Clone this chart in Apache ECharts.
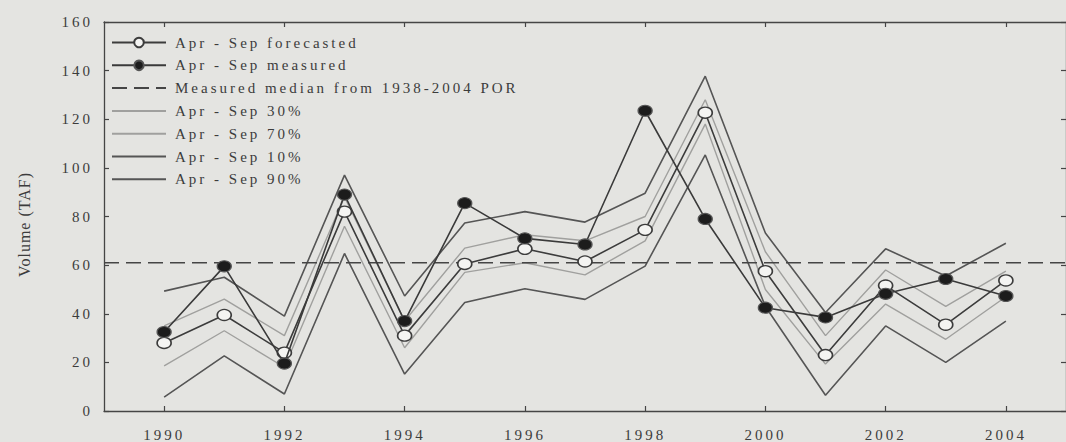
<!DOCTYPE html>
<html>
<head>
<meta charset="utf-8">
<script src="https://cdn.jsdelivr.net/npm/echarts@6/dist/echarts.min.js"></script>
<style>
  html, body { margin: 0; padding: 0; background: #e4e4e1; }
  #chart { width: 1066px; height: 442px; }
  #chart text { letter-spacing: 3px; }
  #chart text[style*="lighter"] { letter-spacing: 1px; }
</style>
</head>
<body>
<div id="chart"></div>
<script>
// ---- data ----
const years = [1990, 1991, 1992, 1993, 1994, 1995, 1996, 1997, 1998, 1999, 2000, 2001, 2002, 2003, 2004];
const forecasted = [28, 39.5, 24, 82, 31, 60.5, 66.7, 61.5, 74.5, 122.7, 57.5, 23, 51.6, 35.5, 53.7];
const measured   = [32.5, 59.5, 19.5, 89, 37, 85.5, 71, 68.5, 123.5, 79, 42.5, 38.5, 48.2, 54.3, 47.3];
const p10 = [49.3, 55, 39, 97, 47.3, 77.3, 82, 77.7, 89.6, 137.7, 73.2, 40.5, 66.7, 55.5, 69];
const p30 = [35, 46, 31, 88, 37, 67, 72.5, 70, 80, 128, 65.5, 31, 58, 43, 57.5];
const p70 = [18.6, 33, 18, 76, 26, 57, 61, 56, 70, 118, 50, 19.3, 44, 29.5, 47];
const p90 = [5.7, 22.7, 7, 64.8, 15.2, 44.6, 50.3, 45.9, 59.6, 105.3, 43, 6.5, 35, 20, 37];
const medianValue = 61;
const xRange = [1989, 2005];
const xTickLabels = [1990, 1992, 1994, 1996, 1998, 2000, 2002, 2004];
const yTicks = [0, 20, 40, 60, 80, 100, 120, 140, 160];

const names = [
  'Apr - Sep forecasted',
  'Apr - Sep measured',
  'Measured median from 1938-2004 POR',
  'Apr - Sep 30%',
  'Apr - Sep 70%',
  'Apr - Sep 10%',
  'Apr - Sep 90%'
];
const lineOnly = [false, false, true, true, true, true, true];

const pair = arr => years.map((y, i) => [y, arr[i]]);

const FONT = 'Liberation Serif';
const TXT = '#3c3c3c';
const AX = '#454545';

const chart = echarts.init(document.getElementById('chart'), null, { renderer: 'svg' });

const baseX = {
  type: 'value', min: xRange[0], max: xRange[1],
  axisLine: { show: true, onZero: false, lineStyle: { color: AX, width: 1.3 } },
  axisTick: { show: true, inside: true, length: 5, customValues: xTickLabels, lineStyle: { color: AX, width: 1.2 } },
  splitLine: { show: false }
};
const baseY = {
  type: 'value', min: yTicks[0], max: yTicks[yTicks.length - 1], interval: 20,
  axisLine: { show: true, lineStyle: { color: AX, width: 1.3 } },
  axisTick: { show: true, inside: true, length: 5, lineStyle: { color: AX, width: 1.2 } },
  splitLine: { show: false }
};

const option = {
  backgroundColor: '#e4e4e1',
  animation: false,
  grid: { left: 104, top: 22, width: 968, height: 390, containLabel: false },
  legend: {
    orient: 'vertical', left: 106, top: 30,
    itemWidth: 54, itemHeight: 12, itemGap: 7.8,
    selectedMode: false,
    data: names.map((n, i) => lineOnly[i] ? { name: n, itemStyle: { opacity: 0 } } : { name: n }),
    textStyle: { fontFamily: FONT, fontSize: 15, color: TXT, padding: [0, 0, 0, 4] }
  },
  xAxis: [
    Object.assign({}, baseX, {
      position: 'bottom',
      axisLabel: { show: true, customValues: xTickLabels, margin: 16, fontFamily: FONT, fontSize: 15, color: TXT, formatter: v => String(v) }
    }),
    Object.assign({}, baseX, { position: 'top', axisLabel: { show: false } })
  ],
  yAxis: [
    Object.assign({}, baseY, {
      position: 'left',
      name: 'Volume (TAF)', nameLocation: 'middle', nameGap: 72, nameRotate: 90,
      nameTextStyle: { fontFamily: FONT, fontWeight: 'lighter', fontSize: 16, color: TXT, padding: [0, 16, 0, 0] },
      axisLabel: { show: true, margin: 11, fontFamily: FONT, fontSize: 15, color: TXT }
    }),
    Object.assign({}, baseY, { position: 'right', axisLabel: { show: false } })
  ],
  series: [
    { name: names[5], type: 'line', data: pair(p10), symbol: 'none', lineStyle: { color: '#555555', width: 1.6 }, itemStyle: { color: '#555555', opacity: 0 }, z: 2 },
    { name: names[6], type: 'line', data: pair(p90), symbol: 'none', lineStyle: { color: '#555555', width: 1.6 }, itemStyle: { color: '#555555', opacity: 0 }, z: 2 },
    { name: names[3], type: 'line', data: pair(p30), symbol: 'none', lineStyle: { color: '#a0a09e', width: 1.4 }, itemStyle: { color: '#a0a09e', opacity: 0 }, z: 2 },
    { name: names[4], type: 'line', data: pair(p70), symbol: 'none', lineStyle: { color: '#a0a09e', width: 1.4 }, itemStyle: { color: '#a0a09e', opacity: 0 }, z: 2 },
    { name: names[2], type: 'line', data: [[xRange[0], medianValue], [xRange[1], medianValue]], symbol: 'none',
      lineStyle: { color: '#454545', width: 1.4, type: [15, 7] }, itemStyle: { color: '#454545', opacity: 0 }, z: 3 },
    { name: names[0], type: 'line', data: pair(forecasted), symbol: 'circle', symbolSize: [14, 11], showSymbol: true,
      lineStyle: { color: '#3c3c3c', width: 1.6 },
      itemStyle: { color: '#f4f4f2', borderColor: '#3c3c3c', borderWidth: 1.5 }, z: 4 },
    { name: names[1], type: 'line', data: pair(measured), symbol: 'circle', symbolSize: [14, 11], showSymbol: true,
      lineStyle: { color: '#3a3a3a', width: 1.6 },
      itemStyle: { color: '#1c1c1c', borderColor: '#555555', borderWidth: 1.2 }, z: 5 }
  ]
};
chart.setOption(option);
</script>
</body>
</html>
